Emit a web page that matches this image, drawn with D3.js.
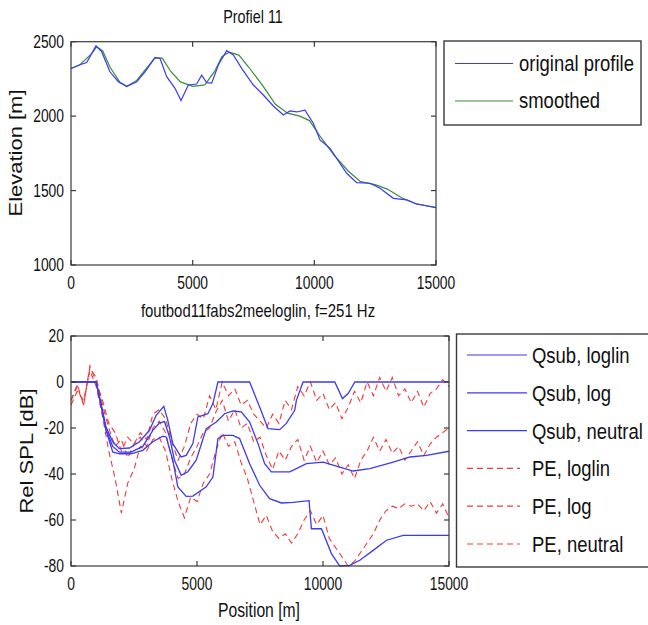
<!DOCTYPE html>
<html>
<head>
<meta charset="utf-8">
<script src="https://cdn.jsdelivr.net/npm/d3@7"></script>
<style>
  body { margin: 0; background: #fff; }
  svg { display: block; font-family: "Liberation Sans", Arial, sans-serif; }
</style>
</head>
<body>
<div id="chart"></div>
<script>
// ---- top panel: elevation profile ----
const profX = [0, 370, 645, 850, 1027, 1260, 1600, 1945, 2288, 2700, 3040, 3452, 3657, 3932, 4274, 4520, 4822, 5164, 5370, 5575, 5781, 6055, 6397, 6671, 7014, 7493, 7904, 8315, 8726, 9000, 9274, 9616, 9958, 10233, 10644, 11055, 11329, 11740, 12288, 12699, 13247, 13795, 14205, 14616, 15000];
const profOriginal = [2320, 2345, 2360, 2420, 2472, 2433, 2298, 2231, 2198, 2231, 2298, 2395, 2388, 2265, 2187, 2105, 2209, 2216, 2275, 2225, 2222, 2343, 2440, 2411, 2321, 2209, 2142, 2068, 2008, 2035, 2028, 2040, 1952, 1840, 1784, 1683, 1616, 1553, 1549, 1515, 1448, 1437, 1410, 1398, 1385];
const smoothX = [0, 370, 850, 1050, 1300, 1600, 2000, 2300, 2700, 3100, 3450, 3750, 4100, 4500, 5000, 5500, 5900, 6200, 6500, 6900, 7300, 7900, 8400, 8900, 9400, 9800, 10300, 10800, 11400, 11900, 12500, 13000, 13600, 14200, 15000];
const profSmoothed = [2320, 2345, 2420, 2465, 2440, 2330, 2230, 2200, 2240, 2320, 2390, 2390, 2300, 2230, 2200, 2210, 2300, 2400, 2430, 2410, 2330, 2200, 2080, 2020, 2000, 1970, 1850, 1740, 1630, 1560, 1540, 1510, 1450, 1410, 1385];
const elevTicks = [1000, 1500, 2000, 2500];
const posTicks = [0, 5000, 10000, 15000];
const topLegend = ["original profile", "smoothed"];

// ---- bottom panel: relative SPL ----
const qLoglinX = [0, 1000, 1190, 1390, 1655, 1920, 2320, 2716, 3114, 3380, 3683, 3842, 4040, 4372, 4571, 4836, 5035, 5433, 5631, 5830, 7089, 7486, 7818, 8281, 8546, 8878, 8944, 9209, 10468, 10772, 10998, 11263, 15000];
const qLoglin = [0, 0, -9.4, -19.6, -26, -29, -28.7, -26, -21, -14.5, -10.6, -16.7, -26.8, -32.6, -31.9, -26.8, -15.2, -13.8, -9.4, 0, 0, -10.9, -20.3, -20.7, -18, -12.3, -8, 0, 0, -7.2, -5, 0, 0];
const qLogX = [0, 1000, 1190, 1390, 1655, 1920, 2385, 2849, 3246, 3511, 3710, 3909, 4107, 4372, 4637, 4969, 5366, 5764, 6095, 6426, 6757, 7089, 7420, 7685, 7950, 8679, 9342, 10004, 10666, 11196, 11859, 12786, 13449, 14112, 15000];
const qLog = [0, 0, -9.8, -20.5, -28, -30.5, -30.5, -28, -21, -17.8, -17.2, -23.9, -34, -40.6, -39, -34, -20.3, -17.4, -13.8, -12.6, -13, -17.4, -26.8, -35.5, -39.1, -39.1, -35.5, -34.8, -37, -38.7, -37.7, -34.8, -32.6, -31.9, -30.1];
const qNeutralX = [0, 1000, 1190, 1390, 1655, 1920, 2385, 2849, 3246, 3644, 3776, 4040, 4240, 4571, 4836, 5366, 5631, 5830, 6029, 6426, 6691, 7089, 7486, 7884, 8347, 8811, 9447, 9540, 9938, 10335, 10666, 11063, 11461, 11991, 12521, 13184, 15000];
const qNeutral = [0, 0, -10, -21, -30.4, -31.2, -31.2, -29.7, -26, -23.6, -23.9, -34, -45.6, -49.7, -49.6, -45.6, -41.3, -24.6, -23.2, -23.2, -24.6, -35.5, -44.9, -50.7, -52.6, -52.3, -51.6, -63.8, -63.8, -74.6, -80, -79.7, -77.5, -73.2, -68.8, -66.7, -66.7];

const peX = [0, 250, 500, 750, 1000, 1250, 1500, 1750, 2000, 2250, 2500, 2750, 3000, 3250, 3500, 3750, 4000, 4250, 4500, 4750, 5000, 5250, 5500, 5750, 6000, 6250, 6500, 6750, 7000, 7250, 7500, 7750, 8000, 8250, 8500, 8750, 9000, 9250, 9500, 9750, 10000, 10250, 10500, 10750, 11000, 11250, 11500, 11750, 12000, 12250, 12500, 12750, 13000, 13250, 13500, 13750, 14000, 14250, 14500, 14750, 15000];
const peLoglin = [-8, -2, -10, 7, 0, -8, -18, -22, -30, -24, -27, -22, -25, -14, -12, -16, -26, -34, -28, -18, -14, -16, -6, -12, 0, -6, -3, -10, -8, -14, -17, -20, -14, -18, -8, -12, -2, -6, 0, -8, -5, -12, -9, -16, -11, -4, -9, 0, -6, 2, -4, 2, -6, -3, -9, -4, -11, -5, -3, 1, -2];
const peLog = [-8, -1, -10, 6, 2, -10, -20, -28, -25, -33, -27, -24, -28, -20, -17, -22, -33, -42, -40, -33, -28, -22, -20, -13, -8, -17, -12, -20, -18, -26, -24, -32, -38, -30, -34, -28, -25, -34, -28, -35, -30, -36, -33, -40, -36, -42, -34, -30, -24, -30, -25, -31, -28, -34, -30, -26, -32, -27, -24, -22, -20];
const peNeutral = [-10, -4, -8, 5, -2, -15, -30, -42, -57, -44, -38, -28, -30, -25, -24, -30, -42, -52, -59, -50, -52, -44, -40, -30, -22, -28, -26, -35, -42, -52, -62, -58, -65, -68, -66, -70, -66, -60, -56, -62, -58, -68, -72, -76, -80, -78, -74, -70, -66, -60, -56, -54, -55, -53, -54, -53, -56, -52, -57, -53, -59];
const splTicks = [-80, -60, -40, -20, 0, 20];
const bottomLegend = ["Qsub, loglin", "Qsub, log", "Qsub, neutral", "PE, loglin", "PE, log", "PE, neutral"];

const width = 648, height = 625;
const blue = "#3b3bf2", green = "#3a8c3a", red = "#f23a3a", frame = "#3a3a3a";

const svg = d3.select("#chart").append("svg")
    .attr("width", width)
    .attr("height", height);

// text helper: the reference is squeezed horizontally, so text gets a x-scale
function label(g, x, y, s, size, sx, anchor, rot) {
    return g.append("text")
        .attr("transform", `translate(${x},${y}) scale(${sx},1)` + (rot ? " rotate(-90)" : ""))
        .attr("text-anchor", anchor || "middle")
        .attr("font-size", size)
        .attr("fill", "#111")
        .text(s);
}

function drawFrame(x, y, xTicks, yTicks) {
    const [x0, x1] = x.range();
    const [y0, y1] = y.range();
    const g = svg.append("g").attr("stroke", frame).attr("stroke-width", 1.2).attr("fill", "none");
    g.append("rect").attr("x", x0).attr("y", y1).attr("width", x1 - x0).attr("height", y0 - y1);
    xTicks.forEach(t => {
        g.append("line").attr("x1", x(t)).attr("x2", x(t)).attr("y1", y0).attr("y2", y0 - 5);
        g.append("line").attr("x1", x(t)).attr("x2", x(t)).attr("y1", y1).attr("y2", y1 + 5);
        label(svg, x(t), y0 + 24, t, 18, 0.77);
    });
    yTicks.forEach(t => {
        g.append("line").attr("x1", x0).attr("x2", x0 + 5).attr("y1", y(t)).attr("y2", y(t));
        g.append("line").attr("x1", x1).attr("x2", x1 - 5).attr("y1", y(t)).attr("y2", y(t));
        label(svg, x0 - 7, y(t) + 6, t, 18, 0.77, "end");
    });
}

// ---------- top panel ----------
const xTop = d3.scaleLinear().domain([0, 15000]).range([71, 436]);
const yTop = d3.scaleLinear().domain([1000, 2500]).range([265, 41.7]);

svg.append("defs").append("clipPath").attr("id", "clipBottom")
    .append("rect").attr("x", 71).attr("y", 335).attr("width", 378).attr("height", 232);

const lineTop = (xs) => d3.line().x((d, i) => xTop(xs[i])).y(d => yTop(d));

svg.append("path").datum(profSmoothed)
    .attr("d", lineTop(smoothX))
    .attr("fill", "none").attr("stroke", green).attr("stroke-width", 1.2);
svg.append("path").datum(profOriginal)
    .attr("d", lineTop(profX))
    .attr("fill", "none").attr("stroke", blue).attr("stroke-width", 1.2);

drawFrame(xTop, yTop, posTicks, elevTicks);
label(svg, 253, 23, "Profiel 11", 18, 0.8);
label(svg, 22, 153, "Elevation [m]", 22, 0.8, "middle", true);

// top legend
const lgTop = svg.append("g");
lgTop.append("rect").attr("x", 444).attr("y", 41).attr("width", 197).attr("height", 84)
    .attr("fill", "#fff").attr("stroke", frame).attr("stroke-width", 1.4);
[blue, green].forEach((c, i) => {
    const yy = 63.5 + i * 37.5;
    lgTop.append("line").attr("x1", 455).attr("x2", 513).attr("y1", yy).attr("y2", yy)
        .attr("stroke", c).attr("stroke-width", 1.2);
    label(lgTop, 519, yy + 7, topLegend[i], 22, 0.84, "start");
});

// ---------- bottom panel ----------
const xBot = d3.scaleLinear().domain([0, 15000]).range([71, 449]);
const yBot = d3.scaleLinear().domain([-80, 20]).range([566, 336]);
const lineBot = (xs) => d3.line().x((d, i) => xBot(xs[i])).y(d => yBot(d));

const plot = svg.append("g").attr("clip-path", "url(#clipBottom)");
[peLoglin, peLog, peNeutral].forEach(s => {
    plot.append("path").datum(s)
        .attr("d", lineBot(peX))
        .attr("fill", "none").attr("stroke", red).attr("stroke-width", 1.1)
        .attr("stroke-dasharray", "6,4");
});
[[qLoglinX, qLoglin], [qLogX, qLog], [qNeutralX, qNeutral]].forEach(([xs, s]) => {
    plot.append("path").datum(s)
        .attr("d", lineBot(xs))
        .attr("fill", "none").attr("stroke", blue).attr("stroke-width", 1.3);
});

drawFrame(xBot, yBot, posTicks, splTicks);
label(svg, 258, 317, "foutbod11fabs2meeloglin, f=251 Hz", 18, 0.83);
label(svg, 259, 617, "Position [m]", 20, 0.785);
label(svg, 33, 451, "Rel SPL [dB]", 22, 0.8, "middle", true);

// bottom legend
const lgBot = svg.append("g");
lgBot.append("rect").attr("x", 456.5).attr("y", 334).attr("width", 200).attr("height", 233)
    .attr("fill", "#fff").attr("stroke", frame).attr("stroke-width", 1.4);
bottomLegend.forEach((name, i) => {
    const yy = 355 + i * 37.8;
    const dashed = i >= 3;
    lgBot.append("line").attr("x1", 467).attr("x2", dashed ? 520 : 527).attr("y1", yy).attr("y2", yy)
        .attr("stroke", dashed ? red : blue).attr("stroke-width", 1.2)
        .attr("stroke-dasharray", dashed ? "6,4" : null);
    label(lgBot, 532, yy + 8, name, 22, 0.84, "start");
});
</script>
</body>
</html>
